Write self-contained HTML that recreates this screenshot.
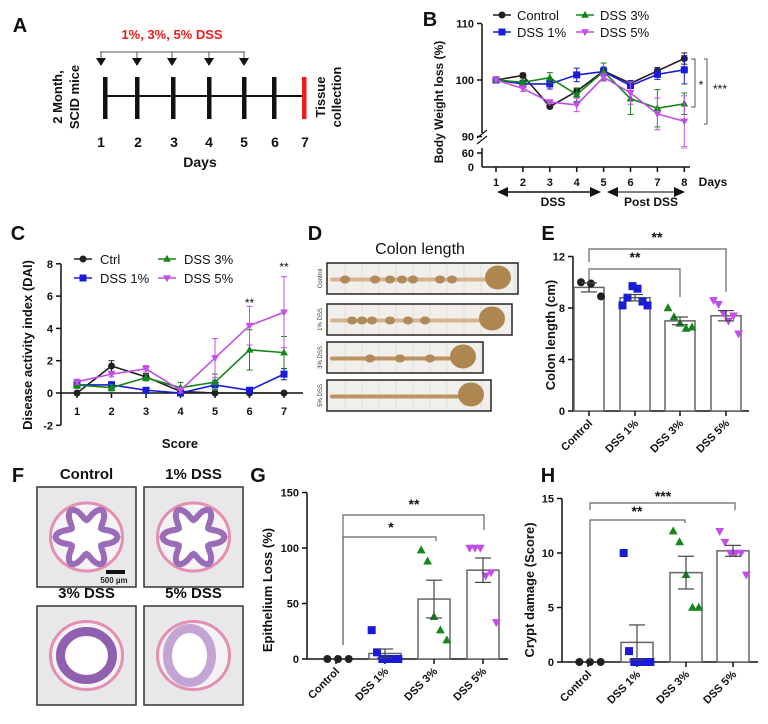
<!DOCTYPE html>
<html><head><meta charset="utf-8"><style>
html,body{margin:0;padding:0;background:#fff;}
svg{display:block;font-family:"Liberation Sans",Arial,sans-serif;}
</style></head><body>
<svg id="fig" width="768" height="724" viewBox="0 0 768 724" xmlns="http://www.w3.org/2000/svg"></svg>
<script>
// ---------- Panel B data ----------
const bDays = [1,2,3,4,5,6,7,8];
const bControl = [100,100.8,95.3,98.0,101.6,99.4,101.6,103.8];
const bDss1 = [100,99.3,99.3,100.9,101.5,99.0,101.0,101.8];
const bDss3 = [100,99.6,100.4,97.4,101.5,96.7,95.0,95.8];
const bDss5 = [100,98.5,96.1,95.6,100.5,97.7,94.0,92.7];
const bControlErr = [0,0.4,0.3,0.5,0.5,0.5,0.6,1.0];
const bDss1Err = [0,0.6,0.9,1.2,0.8,0.9,0.9,2.5];
const bDss3Err = [0,0.4,0.9,1.2,1.5,2.8,3.3,1.9];
const bDss5Err = [0,0.5,0.3,1.2,0.7,2.0,2.8,4.5];
const bTicks = [90,100,110];
// ---------- Panel C data ----------
const cScores = [1,2,3,4,5,6,7];
const cCtrl = [0,1.67,1.0,0.1,0,0,0];
const cDss1 = [0.5,0.5,0.17,0,0.5,0.17,1.17];
const cDss3 = [0.5,0.33,0.95,0.33,0.67,2.67,2.5];
const cDss5 = [0.7,1.17,1.5,0.17,2.17,4.17,5.0];
const cCtrlErr = [0,0.33,0.2,0.1,0,0,0];
const cDss1Err = [0.2,0.2,0.17,0,0.3,0.17,0.35];
const cDss3Err = [0.2,0.2,0.2,0.33,0.5,1.25,1.0];
const cDss5Err = [0.15,0.17,0.2,0.17,1.2,1.2,2.2];
const cTicks = [-2,0,2,4,6,8];
// ---------- Bar panels ----------
const groups = ["Control","DSS 1%","DSS 3%","DSS 5%"];
const eMeans = [9.6,8.8,7.0,7.4];
const eSems = [0.35,0.25,0.3,0.4];
const ePts = [[10.0,9.9,8.9],[8.2,8.8,9.7,9.5,8.5,8.2],[8.0,7.3,6.8,6.4,6.5],[8.6,8.3,7.6,7.0,7.4,6.0]];
const eTicks = [0,4,8,12];
const gMeans = [0,5,54,80];
const gSems = [0,4,17,11];
const gPts = [[0,0,0],[26,6,0,0,0,0],[98,88,38,26,17],[100,100,100,75,78,33]];
const gTicks = [0,50,100,150];
const hMeans = [0,1.8,8.2,10.2];
const hSems = [0,1.6,1.5,0.5];
const hPts = [[0,0,0],[10,1,0,0,0,0],[12,11,8,5,5],[12,11,10,10,10,8]];
const hTicks = [0,5,10,15];

const COL = {k:'#231f20', b:'#1a1adb', g:'#14861a', p:'#c04ee8'};
const NS = 'http://www.w3.org/2000/svg';
const svg = document.getElementById('fig');

function el(tag, attrs, name, text, parent){
  const e = document.createElementNS(NS, tag);
  for (const k in attrs) e.setAttribute(k, attrs[k]);
  
  
  if (text !== undefined) e.textContent = text;
  (parent || svg).appendChild(e);
  return e;
}
function txt(x,y,s,name,opt){
  opt = opt||{};
  const a = {x:x,y:y,'font-size':opt.size||12,'font-weight':opt.weight||'bold',fill:opt.fill||'#111','text-anchor':opt.anchor||'middle'};
  if (opt.rot!==undefined) a.transform = 'rotate('+opt.rot+' '+x+' '+y+')';
  return el('text', a, name, s);
}
function line(x1,y1,x2,y2,name,stroke,w){
  return el('line',{x1:x1,y1:y1,x2:x2,y2:y2,stroke:stroke||'#111','stroke-width':w||1.5},name);
}
function marker(type,x,y,s,color,name){
  if (type==='o') return el('circle',{cx:x,cy:y,r:s*0.5,fill:color},name);
  if (type==='s') return el('rect',{x:x-s/2,y:y-s/2,width:s,height:s,fill:color},name);
  if (type==='^') return el('polygon',{points:(x)+','+(y-s*0.6)+' '+(x-s*0.55)+','+(y+s*0.4)+' '+(x+s*0.55)+','+(y+s*0.4),fill:color},name);
  return el('polygon',{points:(x)+','+(y+s*0.6)+' '+(x-s*0.55)+','+(y-s*0.4)+' '+(x+s*0.55)+','+(y-s*0.4),fill:color},name);
}
function series(xs, ys, errs, xf, yf, color, type, name, ymin){
  let d='';
  xs.forEach((xv,i)=>{ d += (i?'L':'M')+xf(xv)+','+yf(ys[i]); });
  xs.forEach((xv,i)=>{
    const x=xf(xv), lo=Math.max(ys[i]-errs[i], ymin), hi=ys[i]+errs[i];
    if (errs[i]>0){
      line(x,yf(lo),x,yf(hi),name+'-errorbar',color,1);
      line(x-3,yf(lo),x+3,yf(lo),name+'-errorcap',color,1);
      line(x-3,yf(hi),x+3,yf(hi),name+'-errorcap',color,1);
    }
  });
  el('path',{d:d,fill:'none',stroke:color,'stroke-width':1.6},name+'-line');
  xs.forEach((xv,i)=>{ marker(type,xf(xv),yf(ys[i]),7,color,name+'-point'); });
}

// Panel labels
[['A',20,32],['B',430,26],['C',18,240],['D',315,240],['E',548,240],['F',18,482],['G',258,482],['H',548,482]].forEach(p=>{
  txt(p[1],p[2],p[0],'panel-label-'+p[0].toLowerCase(),{size:20});
});

// ---------- Panel A ----------
(function(){
  txt(172,39,'1%, 3%, 5% DSS','dss-dose-label',{size:13,fill:'#ee1c1c'});
  const ax=[101,137,172,209,244];
  line(100,52,245,52,'dose-bracket','#555',1);
  ax.forEach(x=>{
    line(x,52,x,58,'dose-tick','#555',1);
    el('polygon',{points:(x-5)+',58 '+(x+5)+',58 '+x+',66',fill:'#111'},'dose-arrow');
  });
  line(103,96,305,96,'timeline-axis','#111',2);
  [105,137,173,209,244,274].forEach(x=> el('rect',{x:x-2,y:77,width:4.5,height:42,fill:'#111'},'timeline-day-bar'));
  el('rect',{x:302,y:77,width:4.5,height:42,fill:'#ee1c1c'},'tissue-collection-bar');
  [[101,'1'],[138,'2'],[174,'3'],[209,'4'],[244,'5'],[275,'6'],[305,'7']].forEach(d=>txt(d[0],147,d[1],'day-label',{size:14}));
  txt(200,167,'Days','days-axis-title',{size:14});
  txt(62,97,'2 Month,','mice-label-line1',{size:13,rot:-90});
  txt(79,97,'SCID mice','mice-label-line2',{size:13,rot:-90});
  txt(325,97,'Tissue','tissue-label-line1',{size:13,rot:-90});
  txt(341,97,'collection','tissue-label-line2',{size:13,rot:-90});
})();

// ---------- Panel B ----------
(function(){
  const xf = d => 496 + (d-1)*26.9;
  const yf = v => 80 - (v-100)*5.65;
  line(482,24,482,133,'b-y-axis-upper');
  line(477,138,487,130,'b-axis-break','#111',1.2);
  line(477,144,487,136,'b-axis-break','#111',1.2);
  line(482,148,482,167,'b-y-axis-lower');
  line(482,167,690,167,'b-x-axis');
  bTicks.forEach(t=>{ line(477,yf(t),482,yf(t),'b-y-tick'); txt(474,yf(t)+4,String(t),'b-y-tick-label',{size:11,anchor:'end'}); });
  line(477,153,482,153,'b-y-tick'); txt(474,157,'60','b-y-tick-label',{size:11,anchor:'end'});
  txt(474,171,'0','b-y-tick-label',{size:11,anchor:'end'});
  bDays.forEach(d=>{ line(xf(d),167,xf(d),172,'b-x-tick'); txt(xf(d),186,String(d),'b-x-tick-label',{size:11}); });
  txt(713,186,'Days','b-days-label',{size:12,anchor:'middle'});
  txt(443,102,'Body Weight loss (%)','b-y-axis-title',{size:12,rot:-90});
  line(506,192,592,192,'dss-period-arrow','#111',1.5);
  el('polygon',{points:'497,192 508,187 508,197',fill:'#111'},'dss-arrow-head');
  el('polygon',{points:'601,192 590,187 590,197',fill:'#111'},'dss-arrow-head');
  line(616,192,676,192,'post-dss-arrow','#555',1.5);
  el('polygon',{points:'607,192 618,187 618,197',fill:'#111'},'post-dss-arrow-head');
  el('polygon',{points:'685,192 674,187 674,197',fill:'#111'},'post-dss-arrow-head');
  txt(553,206,'DSS','dss-period-label',{size:12});
  txt(651,206,'Post DSS','post-dss-period-label',{size:12});
  series(bDays,bControl,bControlErr,xf,yf,COL.k,'o','b-control',88);
  series(bDays,bDss1,bDss1Err,xf,yf,COL.b,'s','b-dss1',88);
  series(bDays,bDss3,bDss3Err,xf,yf,COL.g,'^','b-dss3',88);
  series(bDays,bDss5,bDss5Err,xf,yf,COL.p,'v','b-dss5',88);
  el('rect',{x:681,y:147,width:6,height:2,fill:'#e8b8f0'},'b-dss5-cut-error');
  el('path',{d:'M691,59 H695 V107 H691',fill:'none',stroke:'#555','stroke-width':1},'b-sig-bracket-dss3');
  txt(701,89,'*','b-sig-star',{size:12,weight:'normal'});
  el('path',{d:'M704,59 H707 V124 H704',fill:'none',stroke:'#555','stroke-width':1},'b-sig-bracket-dss5');
  txt(720,93,'***','b-sig-stars',{size:12,weight:'normal'});
  [[493,15,COL.k,'o','Control'],[493,32,COL.b,'s','DSS 1%'],[576,15,COL.g,'^','DSS 3%'],[576,32,COL.p,'v','DSS 5%']].forEach(l=>{
    line(l[0],l[1],l[0]+18,l[1],'b-legend-line',l[2],1.6);
    marker(l[3],l[0]+9,l[1],7,l[2],'b-legend-marker');
    txt(l[0]+24,l[1]+5,l[4],'b-legend-label',{size:13,weight:'normal',anchor:'start'});
  });
})();

// ---------- Panel C ----------
(function(){
  const xf = s => 77 + (s-1)*34.5;
  const yf = v => 393 - v*16.15;
  line(61,264,61,425,'c-y-axis');
  line(61,393,303,393,'c-x-axis');
  cTicks.forEach(t=>{ line(56,yf(t),61,yf(t),'c-y-tick'); txt(53,yf(t)+4,String(t),'c-y-tick-label',{size:11,anchor:'end'}); });
  cScores.forEach(s=>{ line(xf(s),393,xf(s),398,'c-x-tick'); txt(xf(s),415,String(s),'c-x-tick-label',{size:11}); });
  txt(180,448,'Score','c-x-axis-title',{size:13});
  txt(32,345,'Disease activity index (DAI)','c-y-axis-title',{size:13,rot:-90});
  series(cScores,cCtrl,cCtrlErr,xf,yf,COL.k,'o','c-ctrl',-5);
  series(cScores,cDss1,cDss1Err,xf,yf,COL.b,'s','c-dss1',-5);
  series(cScores,cDss3,cDss3Err,xf,yf,COL.g,'^','c-dss3',-5);
  series(cScores,cDss5,cDss5Err,xf,yf,COL.p,'v','c-dss5',-5);
  txt(xf(6),307,'**','c-sig-day6',{size:12,weight:'normal'});
  txt(xf(7),271,'**','c-sig-day7',{size:12,weight:'normal'});
  [[74,259,COL.k,'o','Ctrl'],[74,278,COL.b,'s','DSS 1%'],[158,259,COL.g,'^','DSS 3%'],[158,278,COL.p,'v','DSS 5%']].forEach(l=>{
    line(l[0],l[1],l[0]+18,l[1],'c-legend-line',l[2],1.6);
    marker(l[3],l[0]+9,l[1],7,l[2],'c-legend-marker');
    txt(l[0]+26,l[1]+5,l[4],'c-legend-label',{size:13,weight:'normal',anchor:'start'});
  });
})();

// ---------- Panel D ----------
(function(){
  txt(420,254,'Colon length','d-title',{size:16,weight:'normal'});
  const strips=[[263,518,'Control',[[345,0],[375,0],[390,0],[402,0],[413,0],[440,0],[452,0]]],[304,512,'1% DSS',[[352,0],[362,0],[372,0],[390,0],[408,0],[425,0]]],[342,483,'3% DSS',[[370,0],[400,0],[430,0]]],[380,491,'5% DSS',[]]];
  strips.forEach((s,i)=>{
    const y=s[0], x2=s[1], h=31;
    el('rect',{x:327,y:y,width:x2-327,height:h,fill:'#f1efec',stroke:'#2a2220','stroke-width':1.5},'colon-photo-'+i);
    for(let gx=345; gx<x2; gx+=17) line(gx,y+1,gx,y+h-1,'photo-grid-line','#d6d4d2',0.6);
    const cy=y+h/2+1;
    el('path',{d:'M332,'+cy+' L'+(x2-30)+','+cy,stroke:i<2?'#d4b48a':'#bb9462','stroke-width':4,fill:'none','stroke-linecap':'round'},'colon-tissue');
    s[3].forEach(b=>el('ellipse',{cx:b[0],cy:cy,rx:5,ry:4,fill:'#b08a58'},'colon-pellet'));
    el('ellipse',{cx:x2-20,cy:cy-2,rx:13,ry:12,fill:'#ad8650'},'cecum');
    txt(322,y+h/2,s[2],'colon-strip-label',{size:6,weight:'normal',rot:-90,fill:'#333'});
  });
})();

// ---------- Bar chart helper ----------
function barChart(p){
  const yf = v => p.y0 - v*p.k;
  const mk=['o','s','^','v'], cols=[COL.k,COL.b,COL.g,COL.p];
  line(p.ax,yf(p.ticks[p.ticks.length-1]),p.ax,p.y0,p.id+'-y-axis');
  line(p.ax,p.y0,p.ax2,p.y0,p.id+'-x-axis');
  p.ticks.forEach(t=>{ line(p.ax-5,yf(t),p.ax,yf(t),p.id+'-y-tick'); txt(p.ax-8,yf(t)+4,String(t),p.id+'-y-tick-label',{size:11,anchor:'end'}); });
  groups.forEach((g,i)=>{
    const cx=p.cx[i];
    el('rect',{x:cx-p.bw/2,y:yf(p.means[i]),width:p.bw,height:p.means[i]*p.k,fill:'#fff',stroke:'#666','stroke-width':1.5},p.id+'-bar-'+i);
    line(cx,p.y0,cx,p.y0+5,p.id+'-x-tick');
    txt(cx+4,p.y0+13,g,p.id+'-x-tick-label',{size:11,anchor:'end',rot:-45});
    const pts=p.pts[i], n=pts.length, sp=p.bw/Math.max(n,1);
    pts.forEach((v,j)=>{ marker(mk[i], cx-p.bw/2+sp*(j+0.5)+ (n===3?2:0), yf(v), 8, cols[i], p.id+'-point'); });
    if(p.sems[i]>0){
      line(cx,yf(p.means[i]-p.sems[i]),cx,yf(p.means[i]+p.sems[i]),p.id+'-errorbar',i===0?'#222':'#444',1.2);
      line(cx-8,yf(p.means[i]-p.sems[i]),cx+8,yf(p.means[i]-p.sems[i]),p.id+'-errorcap','#444',1.2);
      line(cx-8,yf(p.means[i]+p.sems[i]),cx+8,yf(p.means[i]+p.sems[i]),p.id+'-errorcap','#444',1.2);
    }
  });
  txt(p.tx,p.ty,p.title,p.id+'-y-axis-title',{size:13,rot:-90});
  p.sig.forEach(s=>{
    el('path',{d:'M'+s[0]+','+s[3]+' V'+s[2]+' H'+s[1]+' V'+s[4],fill:'none',stroke:'#666','stroke-width':1.2},p.id+'-sig-bracket');
    txt(s[5],s[6],s[7],p.id+'-sig-label',{size:14,weight:'bold'});
  });
}
barChart({id:'e',ax:573,ax2:749,y0:411,k:12.875,cx:[589,635,680,726],bw:30,means:eMeans,sems:eSems,pts:ePts,ticks:eTicks,title:'Colon length (cm)',tx:555,ty:335,
  sig:[[589,726,249,262,292,657,242,'**'],[589,680,269,280,297,635,262,'**']]});
barChart({id:'g',ax:307,ax2:508,y0:659,k:1.11,cx:[336,385,434,483],bw:32,means:gMeans,sems:gSems,pts:gPts,ticks:gTicks,title:'Epithelium Loss (%)',tx:272,ty:590,
  sig:[[343,484,515,645,530,414,509,'**'],[343,436,537,645,541,391,532,'*']]});
barChart({id:'h',ax:562,ax2:758,y0:662,k:10.9,cx:[588,637,686,733],bw:32,means:hMeans,sems:hSems,pts:hPts,ticks:hTicks,title:'Crypt damage (Score)',tx:534,ty:590,
  sig:[[590,735,503,510,510,663,501,'***'],[590,685,520,660,523,637,516,'**']]});

// ---------- Panel F ----------
(function(){
  const imgs=[[37,487,'Control','star'],[144,487,'1% DSS','star'],[37,606,'3% DSS','ring'],[144,606,'5% DSS','thin']];
  imgs.forEach((m,i)=>{
    const x=m[0], y=m[1], w=99, h=i<2?100:99;
    txt(x+w/2,y-8,m[2],'histology-label',{size:15});
    el('rect',{x:x,y:y,width:w,height:h,fill:'#e8e8ea',stroke:'#333','stroke-width':1.5},'histology-image-'+i);
    const cx=x+w/2, cy=y+h/2;
    el('ellipse',{cx:cx,cy:cy,rx:36,ry:34,fill:'#f4f2f4',stroke:'#e48fb0','stroke-width':3},'colon-serosa');
    if(m[3]==='star'){
      let d='';
      for(let a=0;a<=72;a++){ const t=a/72*Math.PI*2; const r=24+7*Math.cos(6*t); d+=(a?'L':'M')+(cx+r*Math.cos(t)).toFixed(1)+','+(cy+r*Math.sin(t)).toFixed(1); }
      el('path',{d:d+'Z',fill:'#fff',stroke:'#9a6cb8','stroke-width':6},'crypt-epithelium');
    } else if(m[3]==='ring'){
      el('ellipse',{cx:cx,cy:cy,rx:26,ry:24,fill:'#fff',stroke:'#9060b0','stroke-width':9},'crypt-epithelium');
    } else {
      el('ellipse',{cx:cx-4,cy:cy,rx:22,ry:27,fill:'#fff',stroke:'#c4a4d4','stroke-width':9},'crypt-epithelium');
    }
  });
  el('rect',{x:106,y:570,width:19,height:4,fill:'#111'},'scale-bar');
  txt(114,583,'500 µm','scale-bar-label',{size:8,fill:'#222'});
})();
</script>
</body></html>
